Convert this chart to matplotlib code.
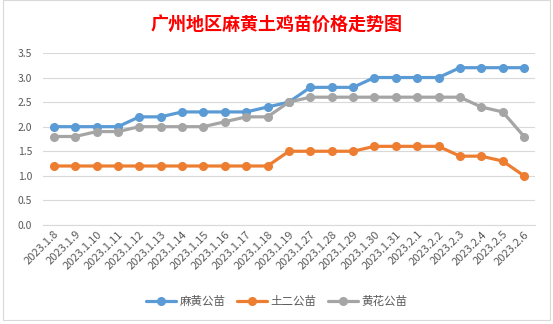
import matplotlib.pyplot as plt
from matplotlib.patches import Rectangle

plt.rcParams["font.family"] = ["Noto Sans CJK SC", "DejaVu Sans"]

dates = ["2023.1.8", "2023.1.9", "2023.1.10", "2023.1.11", "2023.1.12", "2023.1.13",
         "2023.1.14", "2023.1.15", "2023.1.16", "2023.1.17", "2023.1.18", "2023.1.19",
         "2023.1.27", "2023.1.28", "2023.1.29", "2023.1.30", "2023.1.31", "2023.2.1",
         "2023.2.2", "2023.2.3", "2023.2.4", "2023.2.5", "2023.2.6"]
mahuang = [2.0, 2.0, 2.0, 2.0, 2.2, 2.2, 2.3, 2.3, 2.3, 2.3, 2.4, 2.5,
           2.8, 2.8, 2.8, 3.0, 3.0, 3.0, 3.0, 3.2, 3.2, 3.2, 3.2]
tuer = [1.2, 1.2, 1.2, 1.2, 1.2, 1.2, 1.2, 1.2, 1.2, 1.2, 1.2, 1.5,
        1.5, 1.5, 1.5, 1.6, 1.6, 1.6, 1.6, 1.4, 1.4, 1.3, 1.0]
huanghua = [1.8, 1.8, 1.9, 1.9, 2.0, 2.0, 2.0, 2.0, 2.1, 2.2, 2.2, 2.5,
            2.6, 2.6, 2.6, 2.6, 2.6, 2.6, 2.6, 2.6, 2.4, 2.3, 1.8]
series = [("麻黄公苗", mahuang, "#5B9BD5"),
          ("土二公苗", tuer, "#ED7D31"),
          ("黄花公苗", huanghua, "#A5A5A5")]
yticks = [0.0, 0.5, 1.0, 1.5, 2.0, 2.5, 3.0, 3.5]

fig = plt.figure(figsize=(5.53, 3.24), dpi=100)
ax = fig.add_axes([0.078, 0.3056, 0.889, 0.531])

# chart frame like the spreadsheet chart box
fig.patches.append(Rectangle((3 / 553, 4 / 324), 547 / 553, 320 / 324,
                             transform=fig.transFigure, fill=False,
                             edgecolor="#d9d9d9", linewidth=0.8))

x = list(range(len(dates)))
for name, vals, col in series:
    ax.plot(x, vals, color=col, linewidth=2.3, marker="o", markersize=5.5,
            label=name, solid_capstyle="round")

ax.set_xlim(-0.5, len(dates) - 0.5)
ax.set_ylim(0, 3.5)
ax.set_yticks(yticks)
ax.set_yticklabels([f"{v:.1f}" for v in yticks])
ax.yaxis.grid(True, color="#d9d9d9", linewidth=0.8)
ax.set_axisbelow(True)
for s in ["top", "right", "left"]:
    ax.spines[s].set_visible(False)
ax.spines["bottom"].set_color("#d9d9d9")
ax.tick_params(axis="y", length=0, labelsize=7.5, labelcolor="#595959", pad=8)
ax.tick_params(axis="x", length=0, labelsize=8, labelcolor="#595959", pad=3)
ax.set_xticks(x)
ax.set_xticklabels(dates, rotation=45, ha="right", rotation_mode="anchor")

fig.text(0.5, 0.925, "广州地区麻黄土鸡苗价格走势图", ha="center", va="center",
         fontsize=13, fontweight="bold", color="#FF0000")

fig.legend(loc="center", bbox_to_anchor=(0.5, 0.07), ncol=3, frameon=False,
           fontsize=8.3, labelcolor="#595959", handlelength=2.6, columnspacing=1.0,
           handletextpad=0.3)

fig.savefig("out.png", dpi=100)
